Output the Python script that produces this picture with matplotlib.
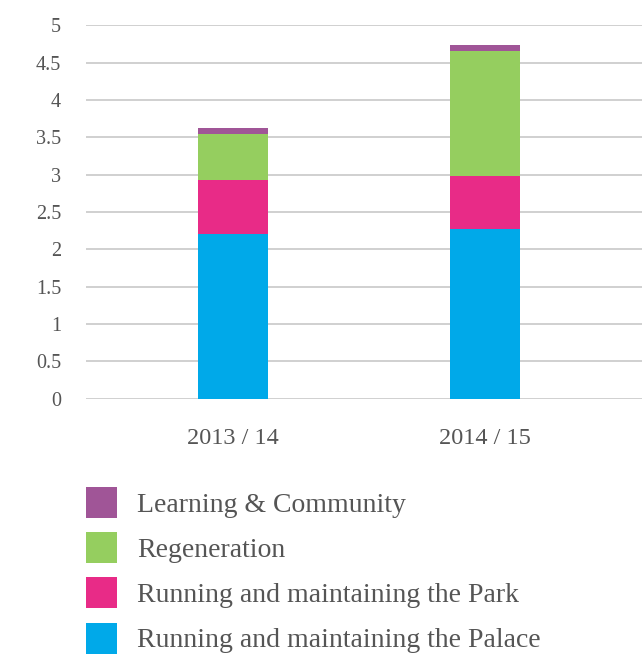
import matplotlib
matplotlib.use("Agg")
import matplotlib.pyplot as plt
from matplotlib.patches import Patch
import numpy as np

categories = ["2013 / 14", "2014 / 15"]
series_names = ["Running and maintaining the Palace", "Running and maintaining the Park",
                "Regeneration", "Learning & Community"]
palace = [2.21, 2.27]
park = [0.72, 0.715]
regeneration = [0.61, 1.67]
learning = [0.08, 0.075]
colors = ["#00a9e9", "#e82b87", "#95ce5f", "#a05597"]
yticks = [0, 0.5, 1, 1.5, 2, 2.5, 3, 3.5, 4, 4.5, 5]
ytick_labels = ["0", "0.5", "1", "1.5", "2", "2.5", "3", "3.5", "4", "4.5", "5"]

plt.rcParams['font.family'] = ['Liberation Serif', 'DejaVu Serif']
text_color = "#555555"

fig = plt.figure(figsize=(6.42, 6.58), dpi=100)
ax = fig.add_axes([86/642, 0.394, 1 - 86/642, 0.5675])

x = np.arange(len(categories))
width = 0.278
bottom = np.zeros(len(categories))
handles = []
for vals, name, c in zip([palace, park, regeneration, learning], series_names, colors):
    ax.bar(x, vals, width, bottom=bottom, color=c, label=name, zorder=3)
    bottom += np.array(vals)
    handles.append(Patch(facecolor=c, label=name))

ax.set_xlim((86 - 233) / 252, (642 - 233) / 252)
ax.set_ylim(0, 5)
ax.set_yticks(yticks)
ax.set_yticklabels(ytick_labels)
ax.set_xticks(x)
ax.set_xticklabels(categories)
ax.yaxis.grid(True, color="#c8c8c8", linewidth=1.2, zorder=0)
ax.set_axisbelow(True)
for s in ax.spines.values():
    s.set_visible(False)
ax.tick_params(axis='y', length=0, pad=18, labelsize=14.5, labelcolor=text_color)
ax.tick_params(axis='x', length=0, pad=21, labelsize=17.5, labelcolor=text_color)

leg = fig.legend(handles=handles[::-1], loc="upper left",
                 bbox_to_anchor=(86/642, 1 - 487/658), frameon=False,
                 fontsize=20, handlelength=1.115, handleheight=1.34,
                 handletextpad=0.72, labelspacing=0.51, borderpad=0,
                 borderaxespad=0)
for t in leg.get_texts():
    t.set_color(text_color)

fig.savefig("out.png", dpi=100)
